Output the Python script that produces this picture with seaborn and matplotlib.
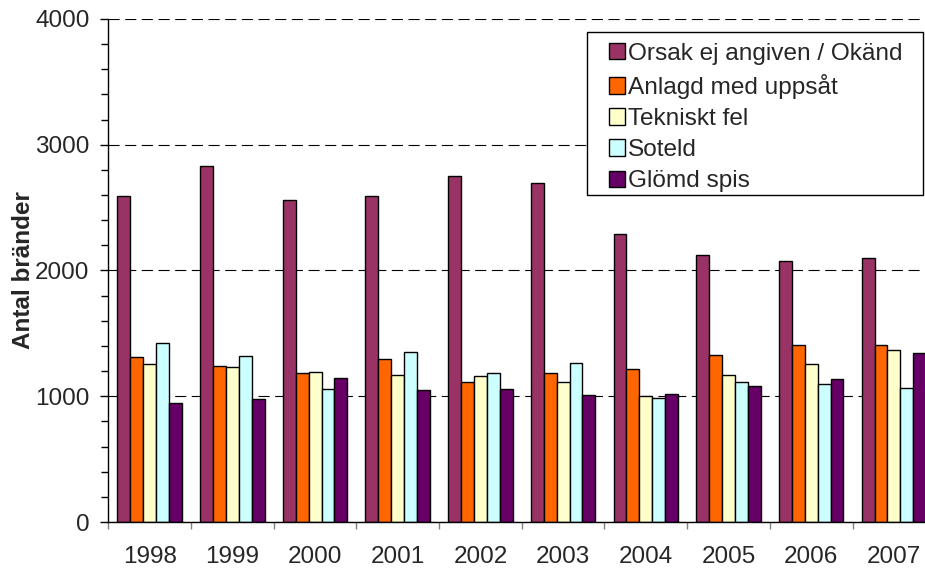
import numpy as np
import pandas as pd
import matplotlib
matplotlib.use("Agg")
import matplotlib.pyplot as plt
import seaborn as sns
from matplotlib.patches import Patch, Rectangle
from matplotlib.ticker import MultipleLocator

years = ["1998", "1999", "2000", "2001", "2002", "2003", "2004", "2005", "2006", "2007"]
causes = ["Orsak ej angiven / Okänd", "Anlagd med uppsåt", "Tekniskt fel", "Soteld", "Glömd spis"]
colors = ["#993366", "#FF6600", "#FFFFCC", "#CCFFFF", "#660066"]

okand = [2590, 2827, 2564, 2593, 2750, 2697, 2289, 2124, 2079, 2098]
anlagd = [1313, 1241, 1183, 1294, 1116, 1183, 1215, 1329, 1411, 1408]
tekniskt = [1259, 1233, 1196, 1169, 1164, 1114, 1000, 1167, 1259, 1366]
soteld = [1427, 1321, 1056, 1350, 1188, 1262, 989, 1111, 1095, 1063]
spis = [949, 981, 1146, 1048, 1056, 1010, 1021, 1080, 1140, 1344]

rows = []
for cause, vals in zip(causes, [okand, anlagd, tekniskt, soteld, spis]):
    for y, v in zip(years, vals):
        rows.append({"ar": y, "orsak": cause, "antal": v})
df = pd.DataFrame(rows)

sns.set_style("ticks")
plt.rcParams["font.family"] = ["Liberation Sans", "DejaVu Sans"]

W, H = 925, 570
fig = plt.figure(figsize=(W / 100, H / 100), dpi=100)
ax = fig.add_axes([0.1171, 0.0842, 0.894, 0.8825])

sns.barplot(data=df, x="ar", y="antal", hue="orsak", order=years, hue_order=causes,
            palette=colors, width=0.78, edgecolor="black", linewidth=1,
            errorbar=None, legend=False, saturation=1, ax=ax)

ax.set_xlim(-0.5, 9.5)
ax.set_ylim(0, 4000)
ax.set_yticks(range(0, 4001, 1000))
ax.yaxis.set_minor_locator(MultipleLocator(200))
ax.set_xticks(np.arange(-0.5, 10, 1), minor=True)

ax.set_axisbelow(True)
ax.yaxis.grid(True, linestyle=(0, (10, 5)), color="black", linewidth=0.8)

for s in ["top", "right"]:
    ax.spines[s].set_visible(False)
for s in ["left", "bottom"]:
    ax.spines[s].set_color("black")
    ax.spines[s].set_linewidth(1)

ax.tick_params(axis="x", which="major", length=0, pad=17, labelsize=17.5)
ax.tick_params(axis="x", which="minor", length=5, width=1, color="#808080", direction="out")
ax.tick_params(axis="y", which="major", length=5.5, width=1, color="black", direction="out",
               pad=8, labelsize=17.5)
ax.tick_params(axis="y", which="minor", length=5, width=1, color="black", direction="out")

ax.set_xlabel("")
ax.set_ylabel("Antal bränder", fontsize=17.5, fontweight="bold")
ax.yaxis.set_label_coords(-0.0885, 0.5)

# legend frame drawn separately so the padding can match the reference
frame = Rectangle((587 / W, 1 - 195 / H), 336 / W, 163 / H, transform=fig.transFigure,
                  facecolor="white", edgecolor="black", linewidth=1, zorder=4, clip_on=False)
ax.add_patch(frame)

handles = [Patch(facecolor=c, edgecolor="black", linewidth=1) for c in colors]
leg = ax.legend(handles, causes, loc="upper left", bbox_to_anchor=(609 / W, 1 - 43 / H),
                bbox_transform=fig.transFigure, borderaxespad=0, borderpad=0, fontsize=17.6,
                frameon=False, handlelength=0.64, handleheight=0.64, handletextpad=0.12,
                labelspacing=0.37)
leg.set_zorder(5)

fig.savefig("out.png", dpi=100)
